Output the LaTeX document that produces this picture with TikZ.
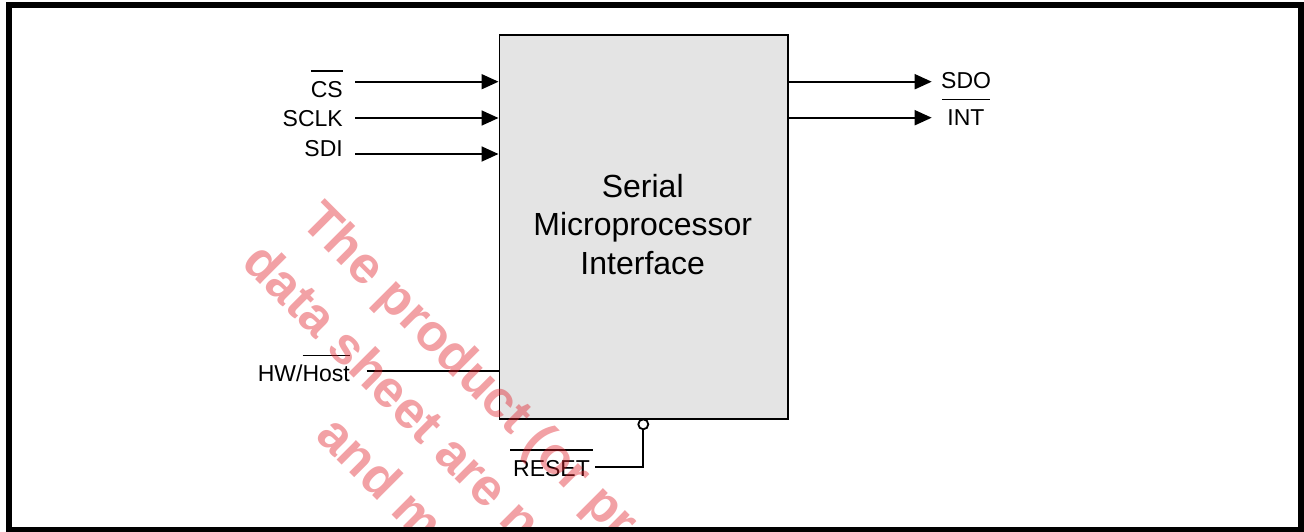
\documentclass[tikz,border=0pt]{standalone}
\usepackage{fontspec}
\setmainfont{Liberation Sans}
\usetikzlibrary{arrows.meta}
\definecolor{boxgray}{RGB}{228,228,228}
\definecolor{wmred}{RGB}{225,30,40}
\newcommand{\ovl}[2][0pt]{\vbox{\hrule height 1.6pt\kern 9pt\hbox{\kern#1\relax#2\kern#1\relax}}}
\tikzset{
  lbl/.style={font=\fontsize{23}{27}\selectfont, inner sep=0pt},
  sig/.style={line width=1.8pt, -{Triangle[length=17pt,width=15pt]}},
  wire/.style={line width=1.8pt},
  wm/.style={font=\fontsize{52}{71}\selectfont\bfseries, text=wmred, text opacity=0.42, rotate=-45, anchor=base west, inner sep=0pt},
}
\begin{document}
\begin{tikzpicture}[x=1pt,y=-1pt]
\useasboundingbox (0,0) rectangle (1304,531);
% main block
\node[draw, line width=1.8pt, fill=boxgray, minimum width=288.5pt, minimum height=384pt, inner sep=0pt, anchor=north west] (spi) at (498.5,34) {};
\node[align=center, font=\fontsize{32}{38.5}\selectfont, anchor=base, inner sep=0pt] (title) at (642.75,274) {Serial\\Microprocessor\\Interface};
% labels
\node[lbl, anchor=base east] (cs) at (343,97) {\ovl{CS}};
\node[lbl, anchor=base east] (sclk) at (343,126) {SCLK};
\node[lbl, anchor=base east] (sdi) at (343,156) {SDI};
\node[lbl, anchor=base east] (hw) at (350,381) {HW/\ovl{Host}};
\node[lbl, anchor=base west] (sdo) at (941,88.5) {SDO};
\node[lbl, anchor=base] (int) at (966,125) {\ovl[5pt]{INT}};
\node[lbl, anchor=base west] (rst) at (510,476) {\ovl[3pt]{RESET}};
% connector ends
\coordinate (csA) at (355,81.7);
\coordinate (sclkA) at (355,118);
\coordinate (sdiA) at (355,154);
\coordinate (hwA) at (366.7,370.7);
\coordinate (sdoB) at (931.7,81.7);
\coordinate (intB) at (931.7,117.7);
\coordinate (rstA) at (595,466.7);
\node[draw, circle, line width=1.8pt, fill=white, minimum size=10pt, inner sep=0pt] (rc) at (643.3,424.3) {};
% connectors
\draw[sig] (csA) -- (csA -| spi.west);
\draw[sig] (sclkA) -- (sclkA -| spi.west);
\draw[sig] (sdiA) -- (sdiA -| spi.west);
\draw[wire] (hwA) -- (hwA -| spi.west);
\draw[sig] (sdoB -| spi.east) -- (sdoB);
\draw[sig] (intB -| spi.east) -- (intB);
\draw[wire] (rstA) -- (rstA -| rc) -- (rc.south);
% watermark
\begin{scope}
\clip (12,8) rectangle (1298,526);
\node[wm] (wm1) at (299,223) {The product (or pro};
\node[wm] (wm2) at (240,264) {data sheet are no};
\node[wm] (wm3) at (314,437) {and m};
\end{scope}
% frame
\draw[line width=6pt] (9,5) rectangle (1301,529.5);
\end{tikzpicture}
\end{document}
